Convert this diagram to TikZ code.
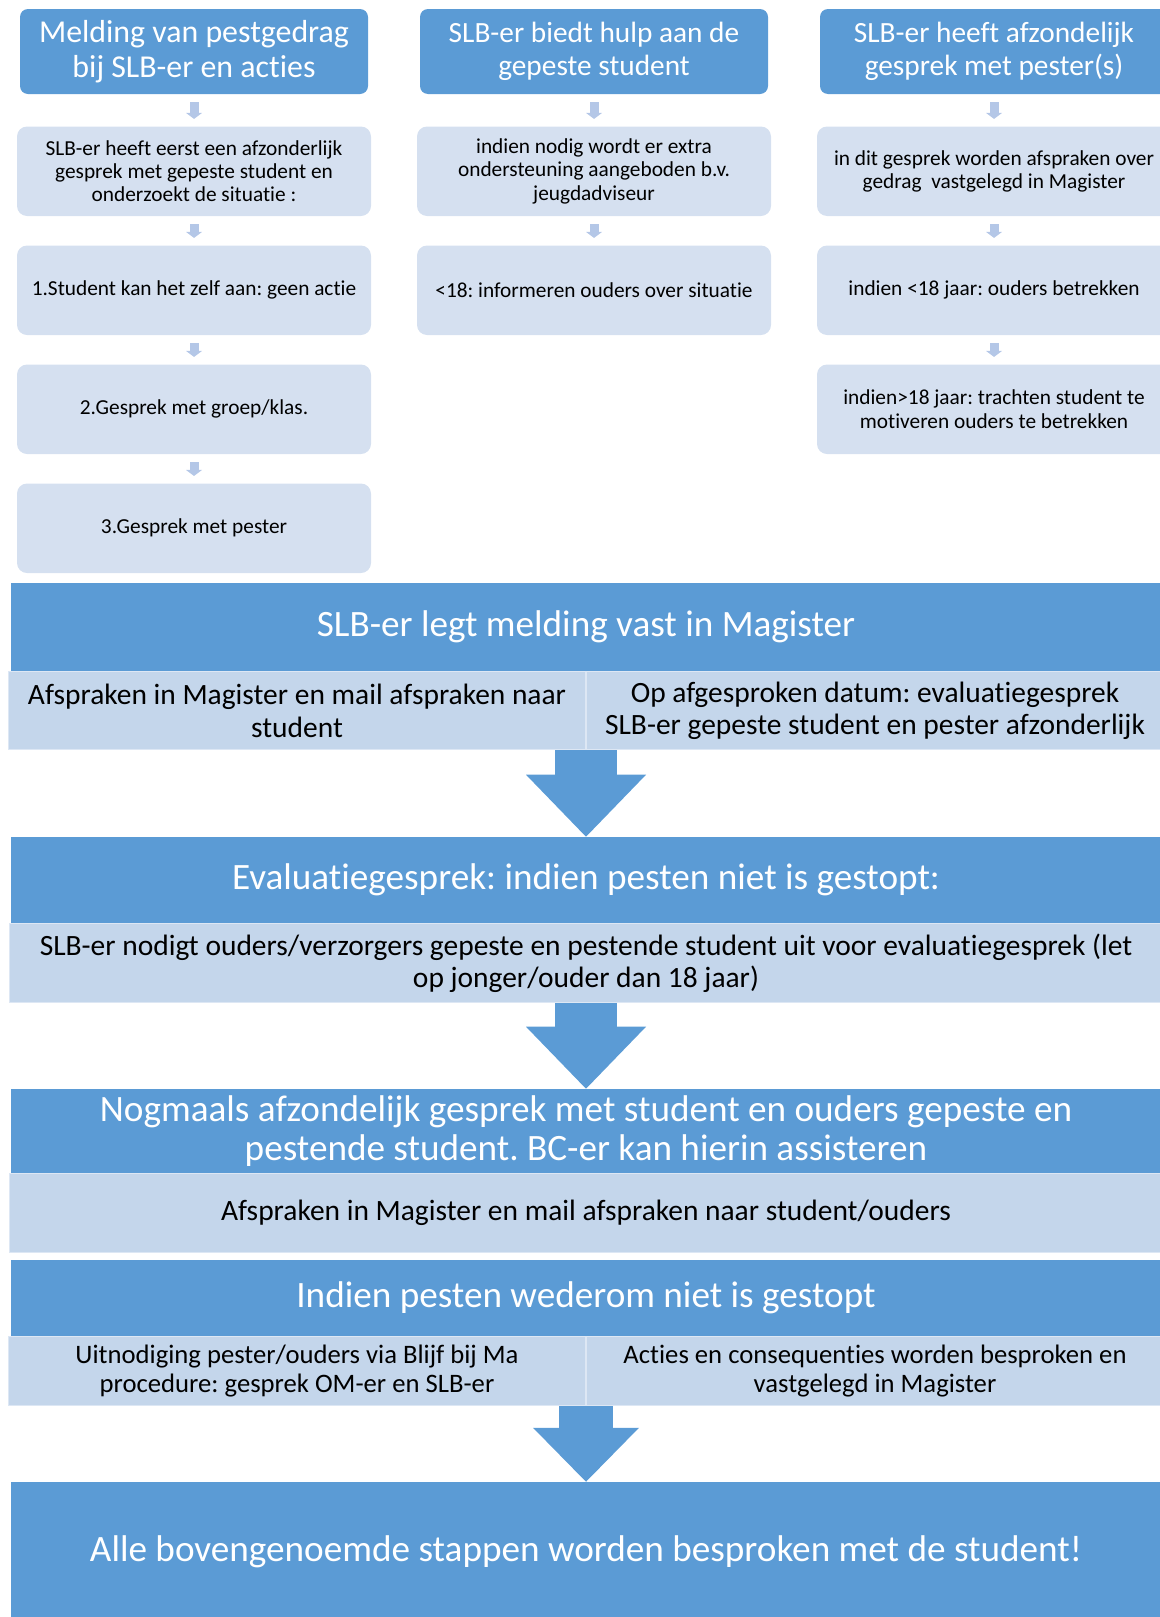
\documentclass[tikz,border=0pt]{standalone}
\usepackage{fontspec}
\setmainfont[Ligatures=NoCommon]{Carlito}
\frenchspacing
\usetikzlibrary{positioning,arrows.meta}

\definecolor{donker}{RGB}{91,155,213}
\definecolor{licht}{RGB}{213,224,240}
\definecolor{rijlicht}{RGB}{196,214,235}
\definecolor{pijllicht}{RGB}{180,199,231}
\definecolor{rand}{RGB}{221,231,244}

\tikzset{
  kop/.style={fill=donker, text=white, rounded corners=6pt, minimum width=261pt,
    minimum height=63.75pt, align=center, inner sep=0pt,
    font=\fontsize{23.9}{26.3}\selectfont},
  stap/.style={fill=licht, rounded corners=7.5pt, minimum width=265.5pt,
    minimum height=67.1pt, align=center, inner sep=0pt,
    font=\fontsize{16}{17.5}\selectfont},
  klein/.style={draw=pijllicht, line width=6.75pt, shorten <=6pt, shorten >=5.5pt,
    -{Triangle[width=12pt,length=4.5pt,line width=0pt]}},
  band/.style={fill=donker, text=white, minimum width=862.5pt, align=center,
    inner sep=0pt, font=\fontsize{27.9}{29.6}\selectfont},
  rij/.style={fill=rijlicht, draw=rand, line width=0.75pt, minimum width=865.5pt,
    align=center, inner sep=0pt, font=\fontsize{22.1}{24.7}\selectfont},
  halfrij/.style={rij, minimum width=432.75pt},
  groot/.style={draw=donker, line width=46.5pt,
    -{Triangle[width=90pt,length=46.5pt,line width=0pt]}},
}

\begin{document}
\begin{tikzpicture}[x=0.75pt,y=-0.75pt]
	\useasboundingbox (0,0) rectangle (1160,1617);
	% kolom 1
	\node[kop] (k1) at (194,51.5) {Melding van pestgedrag\\bij SLB-er en acties};
	\node[stap, below=24pt of k1] (s11) {SLB-er heeft eerst een afzonderlijk\\gesprek met gepeste student en\\onderzoekt de situatie :};
	\node[stap, below=21.75pt of s11] (s12) {1.Student kan het zelf aan: geen actie};
	\node[stap, below=21.75pt of s12] (s13) {2.Gesprek met groep/klas.};
	\node[stap, below=21.75pt of s13] (s14) {3.Gesprek met pester};
	% kolom 2
	\node[kop, font=\fontsize{22}{24.7}\selectfont] (k2) at (594,51.5) {SLB-er biedt hulp aan de\\gepeste student};
	\node[stap, below=24pt of k2] (s21) {indien nodig wordt er extra\\ondersteuning aangeboden b.v.\\jeugdadviseur};
	\node[stap, below=21.75pt of s21] (s22) {<18: informeren ouders over situatie};
	% kolom 3
	\node[kop, font=\fontsize{22}{24.7}\selectfont] (k3) at (994,51.5) {SLB-er heeft afzondelijk\\gesprek met pester(s)};
	\node[stap, below=24pt of k3] (s31) {in dit gesprek worden afspraken over\\gedrag~~vastgelegd in Magister};
	\node[stap, below=21.75pt of s31] (s32) {indien <18 jaar: ouders betrekken};
	\node[stap, below=21.75pt of s32] (s33) {indien>18 jaar: trachten student te\\motiveren ouders te betrekken};
	\foreach \a/\b in {k1/s11, s11/s12, s12/s13, s13/s14, k2/s21, s21/s22, k3/s31, s31/s32, s32/s33}
		\draw[klein] (\a) -- (\b);

	% banden
	\node[band, minimum height=66pt] (b1) at (586,627) {SLB-er legt melding vast in Magister};
	\node[halfrij, minimum height=58.5pt, anchor=north east] (r1a) at (b1.south) {Afspraken in Magister en mail afspraken naar\\student};
	\node[halfrij, minimum height=58.5pt, anchor=north west] (r1b) at (b1.south) {Op afgesproken datum: evaluatiegesprek\\SLB-er gepeste student en pester afzonderlijk};

	\node[band, minimum height=64.5pt] (b2) at (586,880) {Evaluatiegesprek: indien pesten niet is gestopt:};
	\node[rij, minimum height=59.25pt, below=0pt of b2] (r2) {SLB-er nodigt ouders/verzorgers gepeste en pestende student uit voor evaluatiegesprek (let\\op jonger/ouder dan 18 jaar)};

	\node[band, minimum height=63pt] (b3) at (586,1131) {Nogmaals afzondelijk gesprek met student en ouders gepeste en\\pestende student. BC-er kan hierin assisteren};
	\node[rij, minimum height=59.25pt, below=0pt of b3] (r3) {Afspraken in Magister en mail afspraken naar student/ouders};

	\node[band, minimum height=57pt] (b4) at (586,1298) {Indien pesten wederom niet is gestopt};
	\node[halfrij, minimum height=51.75pt, anchor=north east, font=\fontsize{20}{21.8}\selectfont] (r4a) at (b4.south) {Uitnodiging pester/ouders via Blijf bij Ma\\procedure: gesprek OM-er en SLB-er};
	\node[halfrij, minimum height=51.75pt, anchor=north west, font=\fontsize{20}{21.8}\selectfont] (r4b) at (b4.south) {Acties en consequenties worden besproken en\\vastgelegd in Magister};

	\node[band, minimum height=105pt] (b5) at (586,1552) {Alle bovengenoemde stappen worden besproken met de student!};

	\draw[groot] (r1a.south east) -- (b2.north);
	\draw[groot] (r2) -- (b3);
	\draw[groot, line width=40.5pt, -{Triangle[width=79.5pt,length=40.5pt,line width=0pt]}] (r4a.south east) -- (b5.north);
\end{tikzpicture}
\end{document}
